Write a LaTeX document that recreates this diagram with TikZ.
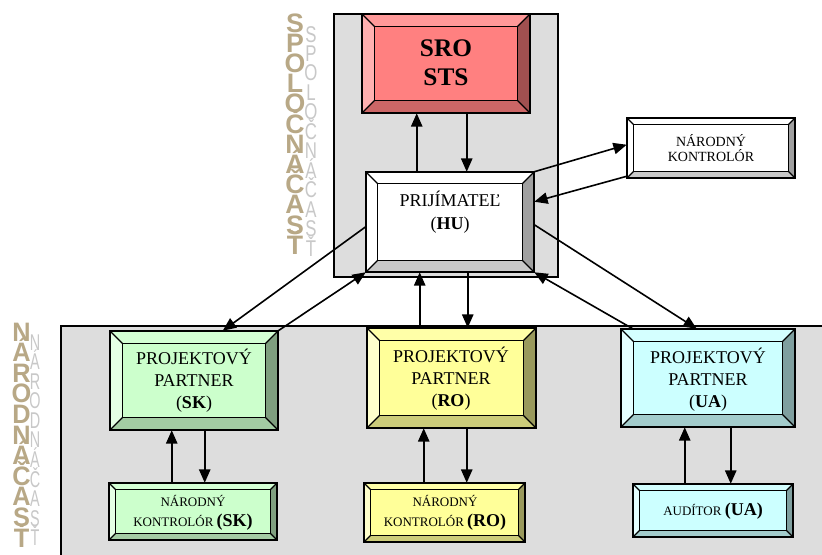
\documentclass[tikz,border=0pt]{standalone}
\usepackage{graphicx}
\usepackage{fontspec}
\setmainfont{Liberation Serif}
\newfontfamily\wafont{Liberation Sans}
\usetikzlibrary{arrows.meta,calc,fit}

\definecolor{bg}{HTML}{DDDDDD}
\definecolor{waTan}{HTML}{B8A886}
\definecolor{waShadow}{HTML}{C8C8C8}
% SRO
\definecolor{sroc}{HTML}{FF8080}\definecolor{srot}{HTML}{FF9999}\definecolor{srol}{HTML}{FFB0B0}\definecolor{sror}{HTML}{A05050}\definecolor{srob}{HTML}{CC6666}
% white
\definecolor{whc}{HTML}{FFFFFF}\definecolor{wht}{HTML}{FFFFFF}\definecolor{whl}{HTML}{FFFFFF}\definecolor{whr}{HTML}{A0A0A0}\definecolor{whb}{HTML}{C8C8C8}
% green
\definecolor{grc}{HTML}{CCFFCC}\definecolor{grt}{HTML}{D4FFD4}\definecolor{grl}{HTML}{E4FFE4}\definecolor{grr}{HTML}{7F9F7F}\definecolor{grb}{HTML}{A3CCA3}
% yellow
\definecolor{yec}{HTML}{FFFF99}\definecolor{yet}{HTML}{FFFFA8}\definecolor{yel}{HTML}{FFFFCC}\definecolor{yer}{HTML}{99995C}\definecolor{yeb}{HTML}{CCCC7A}
% cyan
\definecolor{cyc}{HTML}{CCFFFF}\definecolor{cyt}{HTML}{D4FFFF}\definecolor{cyl}{HTML}{E4FFFF}\definecolor{cyr}{HTML}{7F9F9F}\definecolor{cyb}{HTML}{A3CCCC}

\tikzset{
  panel/.style={fill=bg, draw=black, line width=1pt},
  outerline/.style={draw=black, line width=1.5pt},
  innerline/.style={draw=black, line width=0.9pt},
  arr/.style={line width=1.2pt, -{Triangle[length=10pt,width=8.5pt]}},
  wa/.style={text=waTan, font=\wafont\bfseries\fontsize{20}{20}\selectfont, anchor=base, inner sep=0pt},
  washadow/.style={text=waShadow, font=\wafont\fontsize{18}{18}\selectfont, anchor=base, inner sep=0pt},
  boxtext/.style={align=center, inner sep=0pt},
}

% vertical stack of letters: #1 baselineskip, #2 letters separated by \cr
\newcommand\colstack[2]{\vtop{\baselineskip=#1\lineskiplimit=-100pt\lineskip=0pt\halign{\hfil##\hfil\cr#2\crcr}}}

% #1 name, #2 corner 1, #3 corner 2, #4 bevel, #5 colour prefix
\newcommand\bevbox[5]{%
  \node[fit={#2 #3}, inner sep=0pt, fill=#5c] (#1) {};
  \fill[#5t] (#1.north west) -- (#1.north east) -- ($(#1.north east)+(-#4,#4)$) -- ($(#1.north west)+(#4,#4)$) -- cycle;
  \fill[#5l] (#1.north west) -- ($(#1.north west)+(#4,#4)$) -- ($(#1.south west)+(#4,-#4)$) -- (#1.south west) -- cycle;
  \fill[#5r] (#1.north east) -- ($(#1.north east)+(-#4,#4)$) -- ($(#1.south east)+(-#4,-#4)$) -- (#1.south east) -- cycle;
  \fill[#5b] (#1.south west) -- ($(#1.south west)+(#4,-#4)$) -- ($(#1.south east)+(-#4,-#4)$) -- (#1.south east) -- cycle;
  \draw[innerline] ($(#1.north west)+(#4,#4)$) rectangle ($(#1.south east)+(-#4,-#4)$);
  \draw[innerline] (#1.north west) -- +(#4,#4);
  \draw[innerline] (#1.north east) -- +(-#4,#4);
  \draw[innerline] (#1.south west) -- +(#4,-#4);
  \draw[innerline] (#1.south east) -- +(-#4,-#4);
  \draw[outerline] (#1.north west) rectangle (#1.south east);
}

\begin{document}
\begin{tikzpicture}[x=0.75pt,y=-0.75pt]
\clip (0,0) rectangle (822,554);
\fill[white] (0,0) rectangle (822,554);

% panels
\draw[panel] (334,14) rectangle (558,277);
\draw[panel] (61,326) rectangle (840,570);

% WordArt side titles
\node[washadow] (spol-sh) at (311,42)
  {\scalebox{0.7}[0.95]{\colstack{15.36pt}{S\cr P\cr O\cr L\cr O\cr Č\cr N\cr Á\cr Č\cr A\cr S\cr Ť}}};
\node[wa] (spol) at (295,32)
  {\colstack{15.15pt}{S\cr P\cr O\cr L\cr O\cr Č\cr N\cr Á\cr Č\cr A\cr S\cr Ť}};
\node[washadow] (nar-sh) at (35,350)
  {\scalebox{0.6}[0.95]{\colstack{15.47pt}{N\cr Á\cr R\cr O\cr D\cr N\cr Á\cr Č\cr A\cr S\cr Ť}}};
\node[wa] (nar) at (21.5,341)
  {\scalebox{0.95}[1]{\colstack{15.45pt}{N\cr Á\cr R\cr O\cr D\cr N\cr Á\cr Č\cr A\cr S\cr Ť}}};

% boxes
\bevbox{sro}{(362,14)}{(530,113)}{13}{sro}
\bevbox{hu}{(366,172)}{(534,272)}{12}{wh}
\bevbox{nk}{(627,118)}{(795,178)}{7}{wh}
\bevbox{ppsk}{(110,331)}{(278,430)}{13}{gr}
\bevbox{ppro}{(367,328)}{(536,428)}{13}{ye}
\bevbox{ppua}{(621,329)}{(795,427)}{13}{cy}
\bevbox{nksk}{(109,483)}{(277,540)}{7}{gr}
\bevbox{nkro}{(364,483)}{(525,542)}{7}{ye}
\bevbox{aud}{(633,484)}{(793,537)}{7}{cy}

% texts
\node[boxtext, font=\fontsize{19}{22}\selectfont\bfseries] (sro-t) at (446,63) {SRO\\STS};
\node[boxtext, font=\fontsize{13.5}{17}\selectfont] (hu-t) at (450,212) {PRIJÍMATEĽ\\(\textbf{HU})};
\node[boxtext, font=\fontsize{10.5}{11.5}\selectfont] (nk-t) at (711,148) {NÁRODNÝ\\KONTROLÓR};
\node[boxtext, font=\fontsize{13.5}{16.5}\selectfont] (ppsk-t) at (194,381) {PROJEKTOVÝ\\PARTNER\\(\textbf{SK})};
\node[boxtext, font=\fontsize{13.5}{16.5}\selectfont] (ppro-t) at (451,379) {PROJEKTOVÝ\\PARTNER\\(\textbf{RO})};
\node[boxtext, font=\fontsize{13.5}{16.5}\selectfont] (ppua-t) at (708,380) {PROJEKTOVÝ\\PARTNER\\(\textbf{UA})};
\node[boxtext, font=\fontsize{9.75}{15}\selectfont] (nksk-t) at (193,513) {NÁRODNÝ\\KONTROLÓR {\fontsize{13.5}{15}\selectfont\bfseries (SK)}};
\node[boxtext, font=\fontsize{9.75}{15}\selectfont] (nkro-t) at (445,513) {NÁRODNÝ\\KONTROLÓR {\fontsize{13.5}{15}\selectfont\bfseries (RO)}};
\node[boxtext, font=\fontsize{9.75}{15}\selectfont] (aud-t) at (713,511) {AUDÍTOR {\fontsize{13.5}{15}\selectfont\bfseries (UA)}};

% connectors
\draw[arr] ($(hu.north west)+(51,0)$) -- ($(sro.south west)+(55,0)$);
\draw[arr] ($(sro.south west)+(105,0)$) -- ($(hu.north west)+(101,0)$);
\draw[arr] (hu.north east) -- ($(nk.north west)+(0,27)$);
\draw[arr] ($(nk.south west)+(0,-2)$) -- ($(hu.north east)+(0,30)$);
\draw[arr] ($(hu.north east)+(0,53)$) -- ($(ppua.north west)+(76,0)$);
\draw[arr] ($(ppua.north west)+(12,0)$) -- (hu.south east);
\draw[arr] ($(hu.north west)+(0,55)$) -- ($(ppsk.north west)+(113,0)$);
\draw[arr] (ppsk.north east) -- (hu.south west);
\draw[arr] ($(ppro.north west)+(53,0)$) -- ($(hu.south west)+(54,0)$);
\draw[arr] ($(hu.south west)+(102,0)$) -- ($(ppro.north west)+(101,0)$);
\draw[arr] ($(nksk.north west)+(63,0)$) -- ($(ppsk.south west)+(62,0)$);
\draw[arr] ($(ppsk.south west)+(95,0)$) -- ($(nksk.north west)+(96,0)$);
\draw[arr] ($(nkro.north west)+(60,0)$) -- ($(ppro.south west)+(57,0)$);
\draw[arr] ($(ppro.south west)+(100,0)$) -- ($(nkro.north west)+(103,0)$);
\draw[arr] ($(aud.north west)+(52,0)$) -- ($(ppua.south west)+(64,0)$);
\draw[arr] ($(ppua.south west)+(110,0)$) -- ($(aud.north west)+(98,0)$);
\end{tikzpicture}
\end{document}
